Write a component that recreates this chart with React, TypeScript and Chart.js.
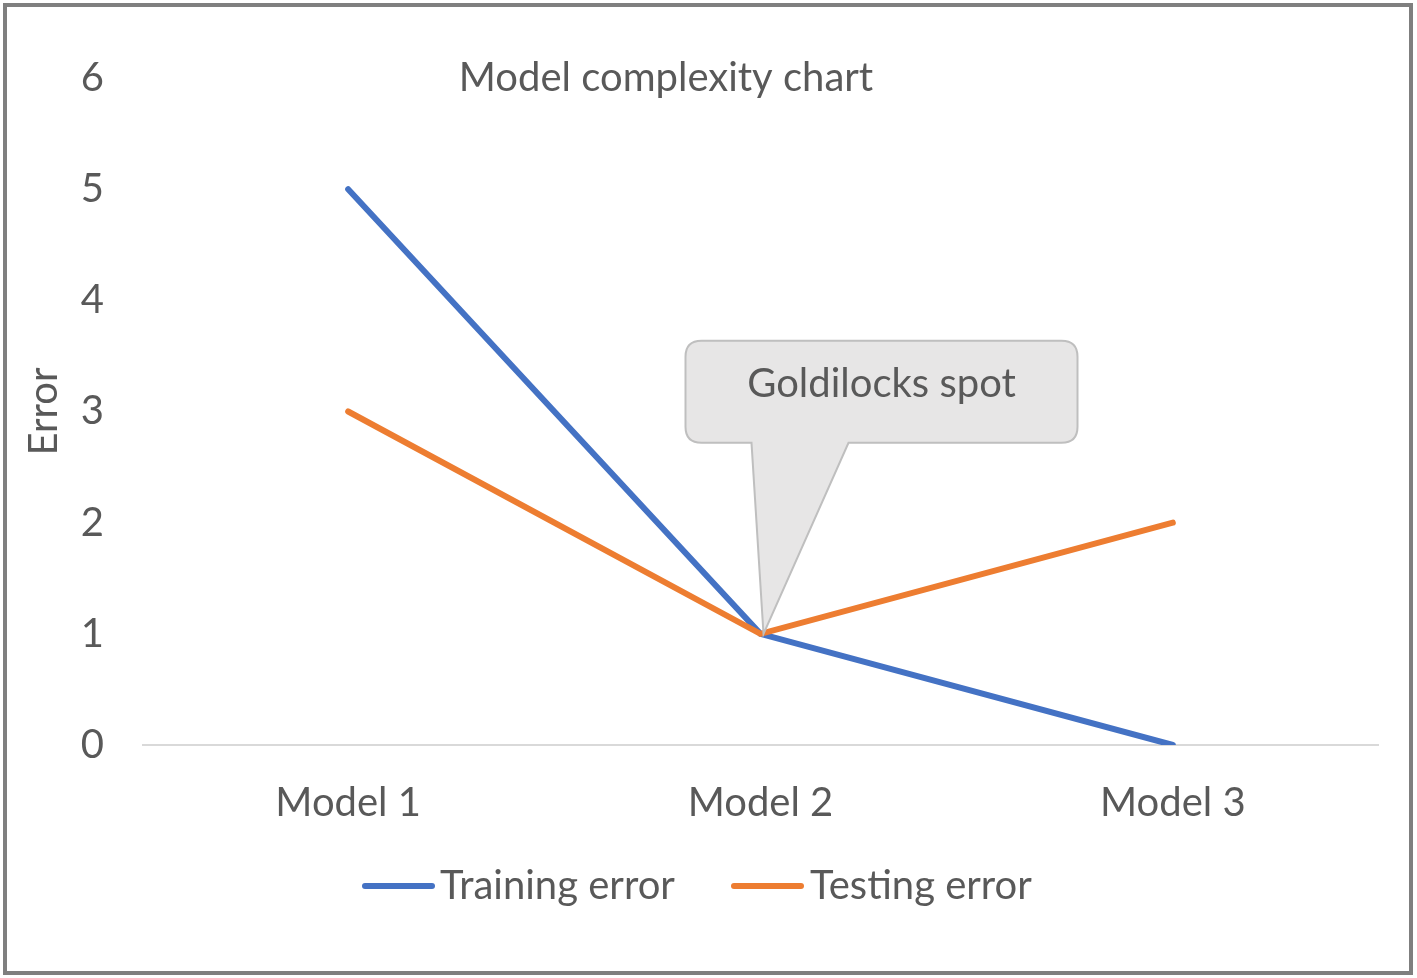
import React, { useEffect, useRef } from "react";
import { Chart, registerables } from "chart.js";

Chart.register(...registerables);

const categories = ["Model 1", "Model 2", "Model 3"];
const trainingError = [5, 1, 0];
const testingError = [3, 1, 2];
const seriesNames = ["Training error", "Testing error"];
const seriesColors = ["#4472C4", "#ED7D31"];
const yTicks = [0, 1, 2, 3, 4, 5, 6];
const titleText = "Model complexity chart";
const yTitle = "Error";
const calloutText = "Goldilocks spot";
const calloutCategoryIndex = 1;
const calloutValue = 1;

const FONT = "Lato, 'Open Sans', sans-serif";
const TEXT = "#595959";
const FS = 40;

const framePlugin = {
  id: "frame",
  beforeDraw(chart: any) {
    const ctx = chart.ctx;
    ctx.save();
    ctx.fillStyle = "#ffffff";
    ctx.fillRect(0, 0, chart.width, chart.height);
    ctx.strokeStyle = "#7f7f7f";
    ctx.lineWidth = 4;
    ctx.strokeRect(5, 5, chart.width - 11, chart.height - 10);
    ctx.restore();
  },
  afterDraw(chart: any) {
    const ctx = chart.ctx;
    const area = chart.chartArea;
    ctx.save();
    ctx.fillStyle = TEXT;
    ctx.font = `${FS}px ${FONT}`;
    ctx.textAlign = "center";
    ctx.textBaseline = "middle";
    ctx.fillText(titleText, 666, area.top);

    // legend
    const ly = 886;
    const items = [
      { x: 362, tx: 440 },
      { x: 731, tx: 810 },
    ];
    seriesNames.forEach((n, i) => {
      ctx.strokeStyle = seriesColors[i];
      ctx.lineWidth = 6;
      ctx.lineCap = "round";
      ctx.beginPath();
      ctx.moveTo(items[i].x + 3, ly);
      ctx.lineTo(items[i].x + 70, ly);
      ctx.stroke();
      ctx.fillStyle = TEXT;
      ctx.textAlign = "left";
      ctx.fillText(n, items[i].tx, ly);
    });
    ctx.restore();
  },
};

const calloutPlugin = {
  id: "callout",
  afterDatasetsDraw(chart: any) {
    const ctx = chart.ctx;
    const xs = chart.scales.x;
    const ys = chart.scales.y;
    const tx = xs.getPixelForValue(calloutCategoryIndex) + 3;
    const ty = ys.getPixelForValue(calloutValue);
    const L = tx - 78, R = tx + 314, T = ty - 293, B = ty - 191;
    const r = 16;
    const pl = tx - 12, pr = tx + 85;
    ctx.save();
    ctx.beginPath();
    ctx.moveTo(L + r, T);
    ctx.lineTo(R - r, T);
    ctx.quadraticCurveTo(R, T, R, T + r);
    ctx.lineTo(R, B - r);
    ctx.quadraticCurveTo(R, B, R - r, B);
    ctx.lineTo(pr, B);
    ctx.lineTo(tx, ty);
    ctx.lineTo(pl, B);
    ctx.lineTo(L + r, B);
    ctx.quadraticCurveTo(L, B, L, B - r);
    ctx.lineTo(L, T + r);
    ctx.quadraticCurveTo(L, T, L + r, T);
    ctx.closePath();
    ctx.fillStyle = "#e7e6e6";
    ctx.fill();
    ctx.strokeStyle = "#bfbfbf";
    ctx.lineWidth = 2;
    ctx.stroke();
    ctx.fillStyle = TEXT;
    ctx.font = `${FS}px ${FONT}`;
    ctx.textAlign = "center";
    ctx.textBaseline = "middle";
    ctx.fillText(calloutText, (L + R) / 2, T + 43);
    ctx.restore();
  },
};

export default function App() {
  const ref = useRef<HTMLCanvasElement | null>(null);
  useEffect(() => {
    document.body.style.margin = "0";
    const canvas = ref.current;
    if (!canvas) return;
    const chart = new Chart(canvas, {
      type: "line",
      data: {
        labels: categories,
        datasets: [
          {
            label: seriesNames[0],
            data: trainingError,
            borderColor: seriesColors[0],
            backgroundColor: seriesColors[0],
            borderWidth: 6,
            pointRadius: 0,
            borderCapStyle: "round",
            order: 1,
          },
          {
            label: seriesNames[1],
            data: testingError,
            borderColor: seriesColors[1],
            backgroundColor: seriesColors[1],
            borderWidth: 6,
            pointRadius: 0,
            borderCapStyle: "round",
            order: 0,
          },
        ],
      },
      options: {
        responsive: false,
        animation: false,
        layout: { padding: { top: 78, right: 38, bottom: 151, left: 0 } },
        scales: {
          x: {
            offset: true,
            grid: { display: false, drawTicks: false },
            border: { display: false },
            ticks: { color: TEXT, font: { family: FONT, size: FS }, padding: 34 },
            afterFit(scale: any) {
              scale.height = 82;
            },
          },
          y: {
            min: 0,
            max: 6,
            afterBuildTicks(scale: any) {
              scale.ticks = yTicks.map((v) => ({ value: v }));
            },
            afterFit(scale: any) {
              scale.width = 142;
            },
            grid: {
              drawTicks: false,
              color: (c: any) => (c.tick && c.tick.value === 0 ? "#d9d9d9" : "rgba(0,0,0,0)"),
              lineWidth: 2,
            },
            border: { display: false },
            ticks: { color: TEXT, font: { family: FONT, size: FS }, padding: 38 },
            title: {
              display: true,
              text: yTitle,
              color: TEXT,
              font: { family: FONT, size: FS },
              padding: { top: 20, bottom: 0 },
            },
          },
        },
        plugins: {
          title: { display: false },
          tooltip: { enabled: false },
          legend: { display: false },
        },
      },
      plugins: [framePlugin, calloutPlugin],
    });
    return () => chart.destroy();
  }, []);
  return (
    <div style={{ width: 1417, height: 978 }}>
      <canvas ref={ref} width={1417} height={978} style={{ display: "block" }} />
    </div>
  );
}
